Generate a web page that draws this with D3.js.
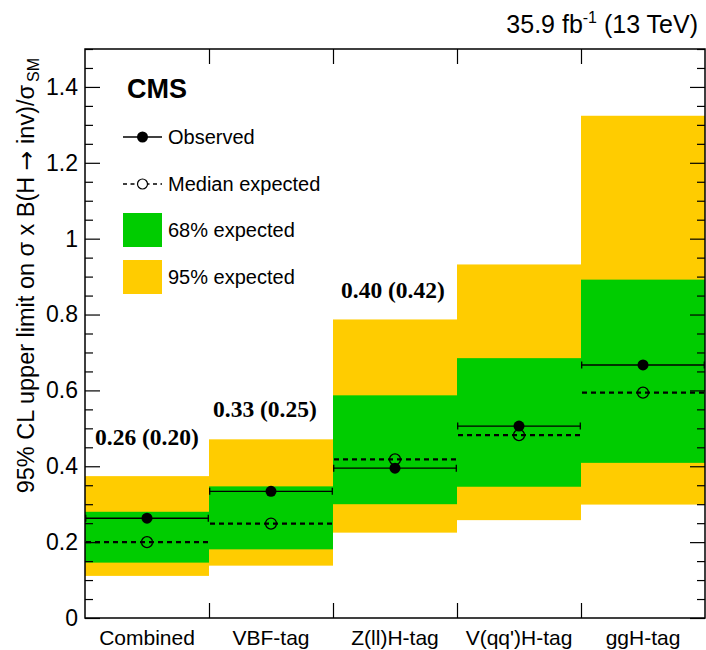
<!DOCTYPE html>
<html>
<head>
<meta charset="utf-8">
<script src="https://cdn.jsdelivr.net/npm/d3@7"></script>
<style>
  html, body { margin: 0; padding: 0; background: #fff; }
  svg { display: block; }
  text { font-family: "Liberation Sans", Arial, sans-serif; fill: #000; }
</style>
</head>
<body>
<svg id="chart" width="706" height="650"></svg>
<script>
// Upper limits on sigma x B(H -> inv) / sigma_SM per analysis category
const categories = ["Combined", "VBF-tag", "Z(ll)H-tag", "V(qq')H-tag", "ggH-tag"];
const observed   = [0.263, 0.334, 0.395, 0.506, 0.667];
const expected   = [0.200, 0.249, 0.418, 0.482, 0.594];
const band68Lo   = [0.146, 0.181, 0.300, 0.346, 0.409];
const band68Hi   = [0.280, 0.347, 0.587, 0.685, 0.892];
const band95Lo   = [0.111, 0.138, 0.225, 0.258, 0.299];
const band95Hi   = [0.374, 0.471, 0.787, 0.932, 1.324];
const labelled   = [0, 1, 2];               // categories that carry an "obs (exp)" label
const yMajorTicks = [0, 0.2, 0.4, 0.6, 0.8, 1, 1.2, 1.4];
const yTickLabels = ["0", "0.2", "0.4", "0.6", "0.8", "1", "1.2", "1.4"];

const legendItems = ["Observed", "Median expected", "68% expected", "95% expected"];

const colors = { band95: "#ffcc00", band68: "#00cc00" };

const svg = d3.select("#chart");
const frame = { left: 85, right: 705, top: 49, bottom: 618 };

const x = d3.scaleBand().domain(categories).range([frame.left, frame.right]).padding(0);
const xEdge = d3.scaleLinear().domain([0, categories.length]).range([frame.left, frame.right]);
const y = d3.scaleLinear().domain([0, 1.5]).range([frame.bottom, frame.top]);

const idx = d3.range(categories.length);

// 95% band
svg.append("g").selectAll("rect").data(idx).join("rect")
  .attr("x", i => x(categories[i]))
  .attr("width", x.bandwidth())
  .attr("y", i => y(band95Hi[i]))
  .attr("height", i => y(band95Lo[i]) - y(band95Hi[i]))
  .attr("fill", colors.band95);

// 68% band
svg.append("g").selectAll("rect").data(idx).join("rect")
  .attr("x", i => x(categories[i]))
  .attr("width", x.bandwidth())
  .attr("y", i => y(band68Hi[i]))
  .attr("height", i => y(band68Lo[i]) - y(band68Hi[i]))
  .attr("fill", colors.band68);

// Median expected: dashed horizontal line + open circle
const expG = svg.append("g");
expG.selectAll("line").data(idx).join("line")
  .attr("x1", i => x(categories[i]) + 1)
  .attr("x2", i => x(categories[i]) + x.bandwidth() - 1)
  .attr("y1", i => y(expected[i]))
  .attr("y2", i => y(expected[i]))
  .attr("stroke", "#000").attr("stroke-width", 2.2)
  .attr("stroke-dasharray", "5,4");
expG.selectAll("circle").data(idx).join("circle")
  .attr("cx", i => x(categories[i]) + x.bandwidth() / 2)
  .attr("cy", i => y(expected[i]))
  .attr("r", 5.5)
  .attr("fill", "none").attr("stroke", "#000").attr("stroke-width", 1.3);

// Observed: solid horizontal line with end caps + filled circle
const obsG = svg.append("g");
obsG.selectAll("line.h").data(idx).join("line").attr("class", "h")
  .attr("x1", i => x(categories[i]))
  .attr("x2", i => x(categories[i]) + x.bandwidth())
  .attr("y1", i => y(observed[i]))
  .attr("y2", i => y(observed[i]))
  .attr("stroke", "#000").attr("stroke-width", 1.3);
[0, 1].forEach(side => {
  obsG.selectAll("line.cap" + side).data(idx).join("line").attr("class", "cap" + side)
    .attr("x1", i => x(categories[i]) + side * x.bandwidth() + (side ? -0.7 : 0.7))
    .attr("x2", i => x(categories[i]) + side * x.bandwidth() + (side ? -0.7 : 0.7))
    .attr("y1", i => y(observed[i]) - 3.5)
    .attr("y2", i => y(observed[i]) + 3.5)
    .attr("stroke", "#000").attr("stroke-width", 1.3);
});
obsG.selectAll("circle").data(idx).join("circle")
  .attr("cx", i => x(categories[i]) + x.bandwidth() / 2)
  .attr("cy", i => y(observed[i]))
  .attr("r", 5.5)
  .attr("fill", "#000");

// "observed (expected)" value labels
const fmt = d3.format(".2f");
const labelDx = [10, 4, 8];
const labelLift = [31, 22, 21];
svg.append("g").selectAll("text").data(labelled).join("text")
  .attr("x", (i, k) => x(categories[i]) + labelDx[k])
  .attr("y", (i, k) => y(band95Hi[i]) - labelLift[k])
  .style("font-family", "'Liberation Serif', 'DejaVu Serif', serif")
  .style("font-weight", "bold")
  .style("font-size", "23.5px")
  .text(i => `${fmt(observed[i])} (${fmt(expected[i])})`);

// Axes
const yAxisL = d3.axisLeft(y).tickValues(yMajorTicks)
  .tickFormat((d, i) => yTickLabels[i]).tickSize(-15).tickPadding(7);
const yMinor = d3.range(0, 1.5001, 0.05).filter(v => Math.abs(v / 0.2 - Math.round(v / 0.2)) > 1e-6);
const gL = svg.append("g").attr("transform", `translate(${frame.left},0)`).call(yAxisL);
gL.selectAll("text").style("font-size", "23px");
const gLm = svg.append("g").attr("transform", `translate(${frame.left},0)`)
  .call(d3.axisLeft(y).tickValues(yMinor).tickFormat("").tickSize(-8));
const gR = svg.append("g").attr("transform", `translate(${frame.right},0)`)
  .call(d3.axisRight(y).tickValues(yMajorTicks).tickFormat("").tickSize(-15));
const gRm = svg.append("g").attr("transform", `translate(${frame.right},0)`)
  .call(d3.axisRight(y).tickValues(yMinor).tickFormat("").tickSize(-8));
const gB = svg.append("g").attr("transform", `translate(0,${frame.bottom})`)
  .call(d3.axisBottom(xEdge).tickValues([1, 2, 3, 4]).tickFormat("").tickSize(-15));
const gT = svg.append("g").attr("transform", `translate(0,${frame.top})`)
  .call(d3.axisTop(xEdge).tickValues([1, 2, 3, 4]).tickFormat("").tickSize(-15));
const gC = svg.append("g").attr("transform", `translate(0,${frame.bottom})`)
  .call(d3.axisBottom(x).tickSize(0).tickPadding(12));
gC.selectAll("text").style("font-size", "21px");

[gL, gLm, gR, gRm, gB, gT, gC].forEach(g => {
  g.select(".domain").remove();
  g.selectAll("line").attr("stroke", "#000").attr("stroke-width", 1.2);
  g.selectAll("text").style("font-family", "'Liberation Sans', Arial, sans-serif").attr("fill", "#000");
});

// Frame
svg.append("rect")
  .attr("x", frame.left).attr("y", frame.top)
  .attr("width", frame.right - frame.left).attr("height", frame.bottom - frame.top)
  .attr("fill", "none").attr("stroke", "#000").attr("stroke-width", 1.5);

// Y axis title
const yTitle = svg.append("text")
  .attr("transform", `translate(34,${frame.top + 9}) rotate(-90)`)
  .attr("text-anchor", "end")
  .style("font-size", "23.5px");
yTitle.append("tspan").text("95% CL upper limit on σ x B(H ");
yTitle.append("tspan").style("font-family", "'DejaVu Sans', sans-serif").text("→");
yTitle.append("tspan").text(" inv)/σ");
yTitle.append("tspan").attr("dy", 5).attr("dx", 3).style("font-size", "16px").text("SM");

// Luminosity / energy label
const lumi = svg.append("text")
  .attr("x", 698).attr("y", 33)
  .attr("text-anchor", "end")
  .style("font-size", "25px");
lumi.append("tspan").text("35.9 fb");
lumi.append("tspan").attr("dy", -10).style("font-size", "16px").text("-1");
lumi.append("tspan").attr("dy", 10).text(" (13 TeV)");

// CMS label
svg.append("text").attr("x", 127).attr("y", 98)
  .style("font-size", "27px").style("font-weight", "bold").text("CMS");

// Legend
const leg = svg.append("g");
const lx = 123, lw = 39, ltx = 168;
const rowY = [137, 184, 230, 277];
// observed entry
leg.append("line").attr("x1", lx).attr("x2", lx + lw).attr("y1", rowY[0]).attr("y2", rowY[0])
  .attr("stroke", "#000").attr("stroke-width", 1.3);
leg.append("circle").attr("cx", lx + lw / 2).attr("cy", rowY[0]).attr("r", 5.5).attr("fill", "#000");
// median expected entry
leg.append("line").attr("x1", lx).attr("x2", lx + lw).attr("y1", rowY[1]).attr("y2", rowY[1])
  .attr("stroke", "#000").attr("stroke-width", 1.6).attr("stroke-dasharray", "4,3.5");
leg.append("circle").attr("cx", lx + lw / 2).attr("cy", rowY[1]).attr("r", 5)
  .attr("fill", "#fff").attr("stroke", "#000").attr("stroke-width", 1.2);
// band entries
leg.append("rect").attr("x", lx).attr("y", rowY[2] - 17).attr("width", lw).attr("height", 34).attr("fill", colors.band68);
leg.append("rect").attr("x", lx).attr("y", rowY[3] - 17).attr("width", lw).attr("height", 34).attr("fill", colors.band95);
leg.selectAll("text").data(legendItems).join("text")
  .attr("x", ltx).attr("y", (d, i) => rowY[i] + 7)
  .style("font-size", "20px")
  .text(d => d);
</script>
</body>
</html>
